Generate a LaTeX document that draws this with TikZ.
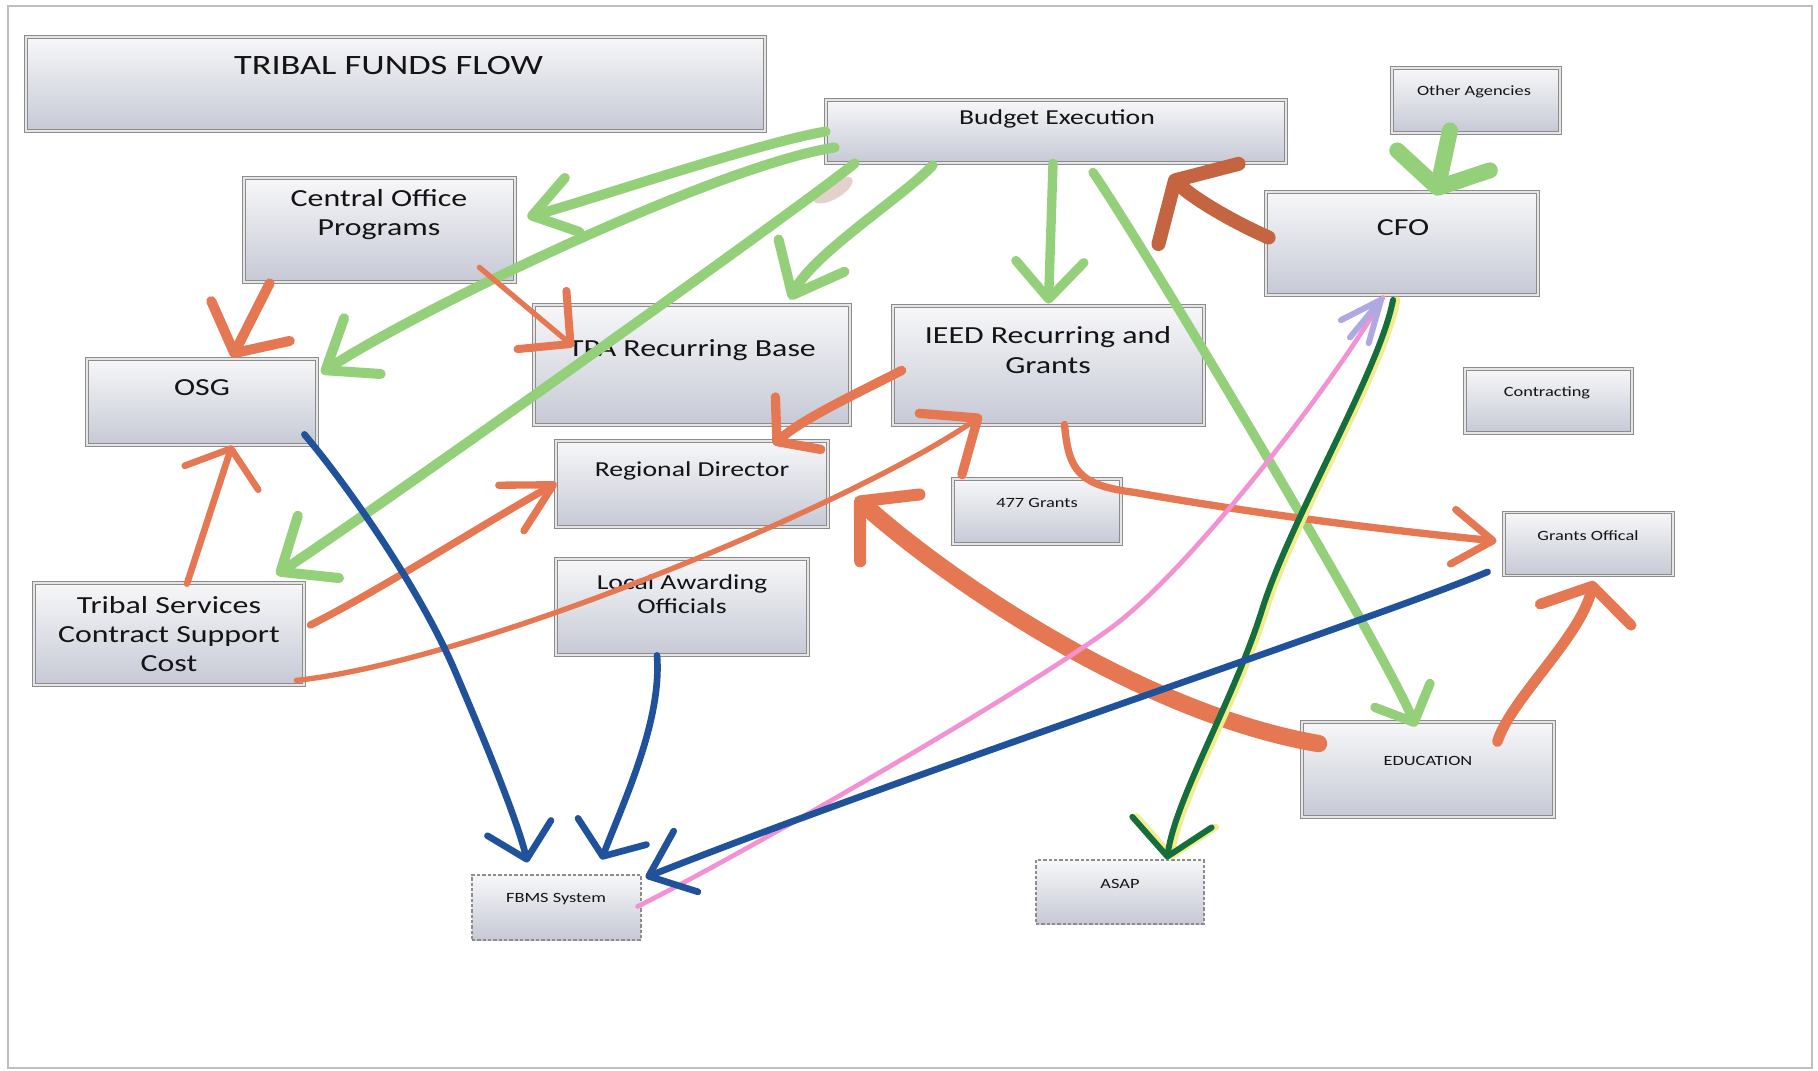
\documentclass[tikz,border=0pt]{standalone}
\usepackage{fontspec}
\setmainfont{Carlito}[FakeStretch=1.3]
\usepackage{tikz}
\usetikzlibrary{calc}
\usetikzlibrary{positioning}
\usetikzlibrary{arrows.meta}

\definecolor{penGreen}{RGB}{148,208,122}
\definecolor{penOrange}{RGB}{229,120,82}
\definecolor{penBrown}{RGB}{196,100,64}
\definecolor{penBlue}{RGB}{32,82,156}
\definecolor{penPink}{RGB}{242,146,210}
\definecolor{penLilac}{RGB}{175,168,225}
\definecolor{penDkGreen}{RGB}{22,110,60}
\definecolor{penYellow}{RGB}{243,236,140}
\definecolor{smudgeCol}{RGB}{200,165,150}
\definecolor{boxEdge}{RGB}{140,140,140}
\definecolor{boxTop}{RGB}{247,247,249}
\definecolor{boxBottom}{RGB}{198,201,213}

\newcommand{\lblTitle}{\fontsize{21}{25}\selectfont}
\newcommand{\lblMain}{\fontsize{18.4}{22}\selectfont}
\newcommand{\lblMid}{\fontsize{16}{18}\selectfont}
\newcommand{\lblSmall}{\fontsize{10.6}{13}\selectfont}

\tikzset{
  box/.style={shade, top color=boxTop, bottom color=boxBottom, draw=boxEdge, double=black!10, double distance=1.1pt, line width=0.6pt, inner sep=0pt},
  dashbox/.style={shade, top color=boxTop, bottom color=boxBottom, draw=boxEdge, dash pattern=on 2.5pt off 1.5pt, line width=0.8pt, inner sep=0pt},
  lbl/.style={inner sep=0pt, align=center, text=black!92},
  pen/.style={line cap=round, line join=round},
  penhead/.style 2 args={-{Straight Barb[length=#1pt, width=#2pt, round]}},
  penheadw/.style n args={3}{-{Straight Barb[length=#1pt, width=#2pt, round, line width=#3pt]}},
}

\begin{document}
\begin{tikzpicture}[x=0.75pt,y=0.75pt,yscale=-1,xscale=1]
%set diagram size: 1818 x 1071
\fill[white] (0,0) rectangle (1818,1071);
\useasboundingbox (0,0) rectangle (1818,1071);
%page edge
\draw[black!25, line width=1.2pt] (8,6) rectangle (1812,1068);

%Shape: Rectangle boxes
\node[box, minimum width=554.25pt, minimum height=70.5pt] (title) at (395.5,84) {};
\node[box, minimum width=345pt, minimum height=47.25pt] (be) at (1056,131.5) {};
\node[box, minimum width=126pt, minimum height=48.75pt] (oa) at (1476,100.5) {};
\node[box, minimum width=204pt, minimum height=77.25pt] (cfo) at (1402,243.5) {};
\node[box, minimum width=125.25pt, minimum height=48pt] (contr) at (1548.5,401) {};
\node[box, minimum width=233.25pt, minimum height=89.25pt] (ieed) at (1048.5,365.5) {};
\node[box, minimum width=203.25pt, minimum height=78pt] (cop) at (379.5,230) {};
\node[box, minimum width=237pt, minimum height=90pt] (tpa) at (692,365) {};
\node[box, minimum width=172.5pt, minimum height=64.5pt] (osg) at (202,402) {};
\node[box, minimum width=204pt, minimum height=64.5pt] (rd) at (692,484) {};
\node[box, minimum width=189pt, minimum height=72pt] (lao) at (682,607) {};
\node[box, minimum width=202.5pt, minimum height=76.5pt] (tscs) at (169,634) {};
\node[box, minimum width=126pt, minimum height=48.75pt] (g477) at (1037,511.5) {};
\node[box, minimum width=126.75pt, minimum height=47.25pt] (go) at (1588.5,544) {};
\node[box, minimum width=189pt, minimum height=71.25pt] (edu) at (1428,769.5) {};
%Shape: dashed boxes
\node[dashbox, minimum width=126.75pt, minimum height=48.75pt] (fbms) at (556.5,907.5) {};
\node[dashbox, minimum width=126pt, minimum height=48pt] (asap) at (1120,892) {};

% Text Node
\node[lbl, font=\lblTitle] (title-t) at (388.5,66) {TRIBAL FUNDS FLOW};
\node[lbl, font=\lblMid] (be-t) at (1057,119) {Budget Execution};
\node[lbl, font=\lblSmall] (oa-t) at (1474,92) {Other Agencies};
\node[lbl, font=\lblMain] (cfo-t) at (1403,228) {CFO};
\node[lbl, font=\lblSmall] (contr-t) at (1547,393) {Contracting};
\node[lbl, font=\lblMain] (ieed-t) at (1048,350) {IEED Recurring and\\Grants};
\node[lbl, font=\lblMain] (cop-t) at (379,214.5) {Central Office\\Programs};
\node[lbl, font=\lblMain] (tpa-t) at (692,350) {TPA Recurring Base};
\node[lbl, font=\lblMain] (osg-t) at (202,388) {OSG};
\node[lbl, font=\lblMid] (rd-t) at (692,471) {Regional Director};
\node[lbl, font=\lblMid] (lao-t) at (682,594) {Local Awarding\\Officials};
\node[lbl, font=\lblMain] (tscs-t) at (169,634) {Tribal Services\\Contract Support\\Cost};
\node[lbl, font=\lblSmall] (fbms-t) at (556,899) {FBMS System};
\node[lbl, font=\lblSmall] (g477-t) at (1037,503) {477 Grants};
\node[lbl, font=\lblSmall] (go-t) at (1588,536) {Grants Offical};
\node[lbl, font=\lblSmall] (edu-t) at (1428,761) {EDUCATION};
\node[lbl, font=\lblSmall] (asap-t) at (1120,884) {ASAP};

%smudge
\fill[smudgeCol, opacity=0.5] (833,190) ellipse [x radius=22, y radius=9, rotate=-30];

%Curve Lines: green
\draw[pen, draw=penGreen, line width=7.5pt, penhead={31}{42}] (be.west) .. controls ($(be.west)+(-66,11)$) and ($(cop.east)+(75,-30)$) .. ($(cop.east)+(12,-13)$);
\draw[pen, draw=penGreen, line width=7.5pt, penhead={33}{50}] ($(be.west)+(9,16)$) .. controls ($(be.west)+(-106,33.5)$) and ($(osg.east)+(103,-94)$) .. ($(osg.east)+(4,-29)$);
\draw[pen, draw=penGreen, line width=7.5pt, penhead={34}{56}] ($(be.south west)+(29,0)$) .. controls ($(be.south west)+(-36,52)$) and ($(tscs.north east)+(72,-74)$) .. ($(tscs.north east)+(-28,-8)$);
\draw[pen, draw=penGreen, line width=7.5pt, penhead={33}{55}] ($(be.south west)+(107,2)$) .. controls ($(be.south west)+(79,32)$) and ($(tpa.north)+(120,-50)$) .. ($(tpa.north)+(98,-5)$);
\draw[pen, draw=penGreen, line width=7pt, penhead={28}{51}] ($(be.south)+(-3,0)$) -- ($(ieed.north)+(0,-2)$);
\draw[pen, draw=penGreen, line width=7pt, penhead={22}{45}] ($(be.south)+(37,9)$) .. controls ($(be.south)+(84,77)$) and ($(edu.north)+(-52,-87)$) .. ($(edu.north)+(-12,5)$);
\draw[pen, draw=penGreen, line width=12pt, penhead={21}{71}] ($(oa.south)+(-26,-3)$) -- ($(cfo.north)+(34,4)$);

%Curve Lines: orange
\draw[pen, draw=penOrange, line width=7.5pt, penhead={27}{66}] ($(cop.south west)+(26,1)$) -- ($(osg.north)+(30,-1)$);
\draw[pen, draw=penOrange, line width=4pt, penheadw={28}{57}{6}] ($(cop.south east)+(-36,-15)$) -- ($(tpa.north west)+(40,42)$);
\draw[pen, draw=penOrange, line width=7pt, penhead={21}{52}] ($(ieed.west)+(9,5)$) .. controls ($(ieed.west)+(-40,30)$) and ($(rd.north east)+(-25,-22)$) .. ($(rd.north east)+(-55,4)$);
\draw[pen, draw=penOrange, line width=5.5pt, penhead={36}{39}] ($(tscs.east)+(6,-9)$) .. controls ($(tscs.east)+(76,-44)$) and ($(rd.west)+(-66,36)$) .. ($(rd.west)+(1,-1)$);
\draw[pen, draw=penOrange, line width=4pt, penheadw={34}{56}{7}] ($(tscs.south east)+(-8,-5)$) .. controls ($(tscs.south east)+(176,-25)$) and ($(ieed.south west)+(-33,75)$) .. ($(ieed.south west)+(89,-10)$);
\draw[pen, draw=penOrange, line width=5pt, penhead={23}{58}] ($(tscs.north)+(18,1)$) -- ($(osg.south)+(30,0)$);
\draw[pen, draw=penOrange, line width=5.5pt, penhead={30}{41}] ($(ieed.south)+(16,-1)$) .. controls ($(ieed.south)+(20,45)$) and ($(ieed.south)+(30,60)$) .. ($(ieed.south)+(86,67)$) .. controls ($(ieed.south)+(200,87)$) and ($(go.west)+(-130,-15)$) .. ($(go.west)+(-7,-3)$);
\draw[pen, draw=penOrange, line width=13pt, penheadw={30}{67}{9}] ($(edu.north west)+(17,22)$) .. controls ($(edu.north west)+(-152,-7)$) and ($(rd.south east)+(132,63)$) .. ($(rd.south east)+(27,-30)$);
\draw[pen, draw=penOrange, line width=8pt, penhead={22}{70}] ($(edu.north east)+(-57,20)$) .. controls ($(edu.north east)+(-44,-22)$) and ($(go.south)+(-8,61)$) .. ($(go.south)+(5,5)$);
\draw[pen, draw=penBrown, line width=10.5pt, penhead={25}{85}] ($(cfo.west)+(3,-6)$) .. controls ($(cfo.west)+(-40,-25)$) and ($(be.south)+(134,32)$) .. ($(be.south)+(114,12)$);

%Curve Lines: pink, yellow, dark green
\draw[pen, draw=penPink, line width=3.5pt] ($(fbms.east)+(-4,-1)$) .. controls ($(fbms.east)+(109,-57.5)$) and ($(fbms.east)+(392,-221.5)$) .. ($(fbms.east)+(472,-281.5)$) .. controls ($(fbms.east)+(552,-341.5)$) and ($(cfo.south)+(-64,82)$) .. ($(cfo.south)+(-19,2)$);
\draw[pen, draw=penLilac, line width=4.5pt, penhead={31}{27}] ($(cfo.south)+(-52,42)$) -- ($(cfo.south)+(-19,2)$);
\draw[pen, draw=penYellow, line width=5pt, penhead={26}{60}, transform canvas={xshift=3pt}] ($(cfo.south)+(-9,4.5)$) .. controls ($(cfo.south)+(-22,74.5)$) and ($(cfo.south)+(-112,224.5)$) .. ($(cfo.south)+(-140,314.5)$) .. controls ($(asap.north)+(114,-160)$) and ($(asap.north)+(55,-60)$) .. ($(asap.north)+(47,0)$);
\draw[pen, draw=penDkGreen, line width=4.5pt, penhead={26}{60}] ($(cfo.south)+(-9,4.5)$) .. controls ($(cfo.south)+(-22,74.5)$) and ($(cfo.south)+(-112,224.5)$) .. ($(cfo.south)+(-140,314.5)$) .. controls ($(asap.north)+(114,-160)$) and ($(asap.north)+(55,-60)$) .. ($(asap.north)+(47,0)$);

%Curve Lines: blue
\draw[pen, draw=penBlue, line width=5pt, penhead={24}{49}] ($(osg.south east)+(-13,-11)$) .. controls ($(osg.south east)+(30,40)$) and ($(osg.south east)+(100,140)$) .. ($(osg.south east)+(136,222)$) .. controls ($(fbms.north west)+(-1,-167)$) and ($(fbms.north west)+(44,-62)$) .. ($(fbms.north west)+(56,-12)$);
\draw[pen, draw=penBlue, line width=5pt, penhead={20}{55}] ($(lao.south)+(-25,0)$) .. controls ($(lao.south)+(-20,65)$) and ($(fbms.north)+(68,-75)$) .. ($(fbms.north)+(45,-15)$);
\draw[pen, draw=penBlue, line width=5pt, penhead={30}{49}] ($(go.south west)+(-16,-4)$) .. controls ($(go.south west)+(-120,40)$) and ($(fbms.north east)+(250,-95)$) .. ($(fbms.north east)+(4,3)$);

\end{tikzpicture}
\end{document}
